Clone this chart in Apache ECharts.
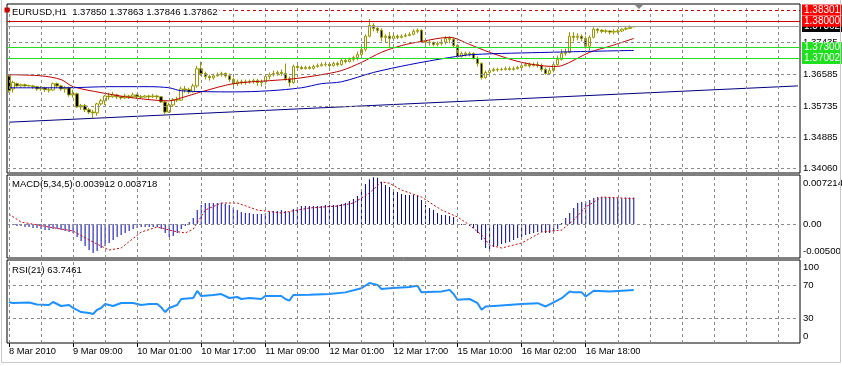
<!DOCTYPE html>
<html><head><meta charset="utf-8">
<script src="https://cdn.jsdelivr.net/npm/echarts@6/dist/echarts.min.js"></script>
<style>html,body{margin:0;padding:0;background:#fff}#c{width:842px;height:366px}</style>
</head><body><div id="c"></div>
<script>
// ---------- data ----------
const timeLabels = ['8 Mar 2010','9 Mar 09:00','10 Mar 01:00','10 Mar 17:00','11 Mar 09:00','12 Mar 01:00','12 Mar 17:00','15 Mar 10:00','16 Mar 02:00','16 Mar 18:00'];

const opens = [1.3654,1.3619,1.3633,1.3627,1.3630,1.3627,1.3627,1.3625,1.3619,1.3622,
1.3617,1.3616,1.3633,1.3627,1.3619,1.3622,1.3603,1.3606,1.3571,1.3574,
1.3563,1.3557,1.3555,1.3579,1.3587,1.3600,1.3598,1.3603,1.3598,1.3595,
1.3600,1.3598,1.3603,1.3598,1.3597,1.3600,1.3598,1.3600,1.3598,1.3584,
1.3557,1.3576,1.3590,1.3589,1.3619,1.3617,1.3611,1.3627,1.3673,1.3660,
1.3652,1.3649,1.3654,1.3657,1.3660,1.3654,1.3644,1.3633,1.3638,1.3636,
1.3638,1.3639,1.3641,1.3636,1.3638,1.3652,1.3657,1.3660,1.3663,1.3660,
1.3646,1.3636,1.3679,1.3676,1.3673,1.3676,1.3674,1.3679,1.3681,1.3684,
1.3685,1.3681,1.3687,1.3684,1.3695,1.3692,1.3698,1.3703,1.3711,1.3725,
1.3760,1.3789,1.3781,1.3776,1.3757,1.3760,1.3754,1.3760,1.3757,1.3760,
1.3762,1.3765,1.3773,1.3776,1.3746,1.3744,1.3743,1.3738,1.3741,1.3744,
1.3754,1.3752,1.3735,1.3706,1.3714,1.3711,1.3714,1.3700,1.3687,1.3649,
1.3663,1.3668,1.3671,1.3670,1.3671,1.3673,1.3671,1.3673,1.3676,1.3681,
1.3684,1.3681,1.3684,1.3682,1.3671,1.3660,1.3668,1.3684,1.3698,1.3714,
1.3717,1.3760,1.3757,1.3760,1.3754,1.3733,1.3757,1.3779,1.3776,1.3773,
1.3774,1.3771,1.3773,1.3774,1.3779,1.3781,1.37850];

const closes = [1.3614,1.3636,1.3627,1.3630,1.3627,1.3628,1.3625,1.3619,1.3622,1.3617,
1.3616,1.3633,1.3627,1.3619,1.3622,1.3603,1.3606,1.3571,1.3574,1.3563,
1.3557,1.3555,1.3579,1.3587,1.3600,1.3598,1.3603,1.3598,1.3595,1.3600,
1.3598,1.3603,1.3598,1.3597,1.3600,1.3598,1.3600,1.3598,1.3584,1.3557,
1.3576,1.3590,1.3589,1.3619,1.3617,1.3611,1.3627,1.3673,1.3660,1.3652,
1.3649,1.3654,1.3657,1.3660,1.3654,1.3644,1.3633,1.3638,1.3636,1.3638,
1.3639,1.3641,1.3636,1.3638,1.3652,1.3657,1.3660,1.3663,1.3660,1.3646,
1.3636,1.3679,1.3676,1.3673,1.3676,1.3674,1.3679,1.3681,1.3684,1.3685,
1.3681,1.3687,1.3684,1.3695,1.3692,1.3698,1.3703,1.3711,1.3725,1.3760,
1.3789,1.3781,1.3776,1.3757,1.3760,1.3754,1.3760,1.3757,1.3760,1.3762,
1.3765,1.3773,1.3776,1.3746,1.3744,1.3743,1.3738,1.3741,1.3744,1.3754,
1.3752,1.3735,1.3706,1.3714,1.3711,1.3714,1.3700,1.3687,1.3649,1.3663,
1.3668,1.3671,1.3670,1.3671,1.3673,1.3671,1.3673,1.3676,1.3681,1.3684,
1.3681,1.3684,1.3682,1.3671,1.3660,1.3668,1.3684,1.3698,1.3714,1.3717,
1.3760,1.3757,1.3760,1.3754,1.3733,1.3757,1.3779,1.3776,1.3773,1.3774,
1.3771,1.3773,1.3774,1.3779,1.3781,1.3784,1.37862];

const highs = [1.3657,1.3641,1.3636,1.3633,1.3633,1.3630,1.3630,1.3627,1.3627,1.3625,
1.3622,1.3636,1.3636,1.3630,1.3627,1.3625,1.3617,1.3609,1.3579,1.3579,
1.3568,1.3563,1.3582,1.3592,1.3603,1.3609,1.3611,1.3606,1.3600,1.3606,
1.3603,1.3609,1.3606,1.3603,1.3603,1.3603,1.3606,1.3603,1.3600,1.3587,
1.3582,1.3595,1.3598,1.3625,1.3627,1.3622,1.3633,1.3681,1.3692,1.3665,
1.3657,1.3660,1.3663,1.3665,1.3663,1.3660,1.3649,1.3644,1.3644,1.3644,
1.3644,1.3646,1.3646,1.3644,1.3657,1.3663,1.3668,1.3668,1.3671,1.3687,
1.3652,1.3684,1.3684,1.3681,1.3681,1.3681,1.3684,1.3687,1.3690,1.3692,
1.3690,1.3692,1.3692,1.3700,1.3700,1.3703,1.3708,1.3719,1.3730,1.3765,
1.3806,1.3795,1.3787,1.3781,1.3765,1.3771,1.3765,1.3765,1.3765,1.3768,
1.3771,1.3779,1.3781,1.3779,1.3752,1.3749,1.3746,1.3746,1.3752,1.3760,
1.3760,1.3757,1.3738,1.3719,1.3719,1.3719,1.3717,1.3706,1.3690,1.3668,
1.3673,1.3676,1.3676,1.3676,1.3679,1.3679,1.3679,1.3681,1.3690,1.3690,
1.3690,1.3690,1.3692,1.3687,1.3676,1.3676,1.3692,1.3708,1.3725,1.3727,
1.3771,1.3771,1.3768,1.3765,1.3760,1.3762,1.3784,1.3781,1.3779,1.3779,
1.3776,1.3779,1.3779,1.3781,1.3787,1.3789,1.37863];

const lows = [1.3609,1.3609,1.3625,1.3625,1.3625,1.3625,1.3619,1.3614,1.3614,1.3611,
1.3609,1.3614,1.3622,1.3614,1.3609,1.3598,1.3595,1.3568,1.3563,1.3557,
1.3552,1.3541,1.3547,1.3574,1.3576,1.3590,1.3595,1.3592,1.3590,1.3592,
1.3592,1.3595,1.3592,1.3592,1.3595,1.3592,1.3595,1.3592,1.3582,1.3549,
1.3555,1.3571,1.3584,1.3587,1.3609,1.3606,1.3609,1.3622,1.3654,1.3644,
1.3641,1.3644,1.3652,1.3652,1.3649,1.3638,1.3627,1.3627,1.3630,1.3630,
1.3633,1.3633,1.3627,1.3625,1.3630,1.3644,1.3652,1.3654,1.3654,1.3641,
1.3625,1.3633,1.3671,1.3671,1.3671,1.3671,1.3671,1.3676,1.3679,1.3679,
1.3676,1.3679,1.3679,1.3681,1.3687,1.3690,1.3692,1.3695,1.3706,1.3719,
1.3757,1.3773,1.3768,1.3746,1.3744,1.3730,1.3749,1.3752,1.3754,1.3757,
1.3760,1.3762,1.3768,1.3744,1.3738,1.3735,1.3733,1.3733,1.3735,1.3738,
1.3741,1.3730,1.3703,1.3703,1.3706,1.3706,1.3698,1.3679,1.3644,1.3646,
1.3657,1.3665,1.3665,1.3668,1.3668,1.3668,1.3668,1.3671,1.3673,1.3679,
1.3676,1.3679,1.3676,1.3665,1.3657,1.3657,1.3663,1.3681,1.3695,1.3708,
1.3714,1.3746,1.3749,1.3746,1.3727,1.3722,1.3754,1.3768,1.3768,1.3768,
1.3765,1.3765,1.3768,1.3771,1.3776,1.3779,1.37846];

const maRed = [[0,1.3657],[8,1.3654],[13,1.3644],[16,1.3625],[23,1.3609],[31,1.3595],[40,1.3587],[43,1.3595],[48,1.3611],[56,1.3633],[65,1.3641],[71,1.3646],[78,1.3657],[83,1.3668],[88,1.3690],[93,1.3717],[98,1.3735],[103,1.3746],[110,1.3757],[115,1.3738],[120,1.3717],[128,1.3690],[136,1.3679],[138,1.3681],[145,1.3717],[150,1.3733],[156,1.3754]];
const maBlue = [[0,1.3622],[14,1.3622],[25,1.3625],[35,1.3625],[40,1.3622],[43,1.3614],[56,1.3611],[65,1.3614],[73,1.3622],[78,1.3633],[83,1.3638],[91,1.3663],[100,1.3684],[110,1.3703],[116,1.3711],[135,1.3717],[156,1.3722]];
const trendLine = [[0,1.3530],[197,1.3627]];

const priceTicks = ['1.34060','1.34885','1.35735','1.36585','1.37435'];
const redDashLevel = 1.38301, redLevel = 1.38000, bidLevel = 1.37862;
const greenLevels = [1.37300, 1.37002];

const macdHist = [-0.00015,-0.00015,-0.00029,-0.00029,-0.00044,-0.00044,-0.00059,-0.00059,-0.00074,-0.00088,
-0.00088,-0.00074,-0.00074,-0.00088,-0.00103,-0.00118,-0.00132,-0.00191,-0.00250,-0.00324,
-0.00383,-0.00427,-0.00397,-0.00353,-0.00324,-0.00280,-0.00236,-0.00191,-0.00162,-0.00132,
-0.00103,-0.00074,-0.00059,-0.00044,-0.00044,-0.00044,-0.00044,-0.00044,-0.00074,-0.00132,
-0.00191,-0.00177,-0.00132,-0.00074,-0.00029,0.00029,0.00088,0.00206,0.00280,0.00309,
0.00309,0.00309,0.00309,0.00309,0.00294,0.00280,0.00236,0.00206,0.00177,0.00162,
0.00162,0.00147,0.00147,0.00147,0.00162,0.00177,0.00191,0.00191,0.00206,0.00191,
0.00177,0.00221,0.00250,0.00265,0.00265,0.00265,0.00265,0.00265,0.00265,0.00280,
0.00280,0.00280,0.00280,0.00294,0.00309,0.00339,0.00368,0.00412,0.00500,0.00590,
0.00660,0.00690,0.00680,0.00620,0.00574,0.00545,0.00515,0.00471,0.00442,0.00427,
0.00427,0.00427,0.00412,0.00353,0.00280,0.00236,0.00206,0.00162,0.00132,0.00132,
0.00118,0.00103,-0.00015,-0.00015,-0.00015,-0.00029,-0.00059,-0.00132,-0.00236,-0.00353,
-0.00383,-0.00339,-0.00324,-0.00294,-0.00280,-0.00265,-0.00236,-0.00206,-0.00191,-0.00162,
-0.00147,-0.00132,-0.00118,-0.00118,-0.00132,-0.00132,-0.00118,-0.00074,0.00015,0.00088,
0.00162,0.00236,0.00309,0.00324,0.00324,0.00353,0.00383,0.00397,0.00397,0.00397,
0.00397,0.00390,0.00380,0.00380,0.00390,0.00390,0.003912];
const macdSignal = [[0,0.00147],[3,0.00029],[10,-0.00044],[16,-0.00103],[20,-0.00236],[25,-0.00383],[28,-0.00353],[33,-0.00118],[37,-0.00044],[41,-0.00103],[44,-0.00132],[46,-0.00074],[49,0.00206],[53,0.00309],[57,0.00309],[62,0.00206],[68,0.00162],[75,0.00236],[82,0.00265],[86,0.00309],[90,0.00456],[93,0.00620],[95,0.00600],[98,0.00500],[103,0.00397],[108,0.00206],[112,0.00103],[115,-0.00015],[118,-0.00162],[120,-0.00309],[123,-0.00353],[128,-0.00280],[133,-0.00118],[138,-0.00088],[141,0.00059],[144,0.00250],[148,0.00397],[153,0.00383],[156,0.003718]];
const macdScale = {max: 0.007214, min: -0.00500};

const rsi = [[0,49.0],[1,48.2],[5,48.8],[7,46.5],[10,45.8],[11,49.4],[13,44.6],[15,45.8],[16,42.2],[18,37.3],[20,36.1],[21,34.9],[22,40.0],[23,42.2],[24,47.0],[26,44.6],[28,48.2],[31,48.2],[33,45.8],[35,47.0],[37,47.0],[38,43.0],[39,37.3],[40,42.2],[42,45.8],[43,53.0],[46,54.2],[47,62.7],[48,56.6],[51,57.8],[53,59.0],[55,54.2],[57,55.4],[58,53.0],[60,54.2],[63,53.0],[64,56.6],[68,56.6],[69,53.0],[70,51.0],[71,57.8],[75,58.0],[80,59.0],[84,61.0],[88,66.0],[90,72.3],[92,70.0],[93,65.0],[95,66.0],[100,67.5],[102,69.0],[103,61.0],[108,62.0],[110,64.0],[111,59.0],[112,52.0],[115,53.0],[117,48.0],[118,40.0],[119,44.0],[122,45.0],[128,47.0],[132,48.0],[134,44.0],[136,49.0],[138,54.0],[140,62.0],[141,61.0],[143,61.0],[144,56.0],[146,63.0],[150,62.0],[153,63.0],[156,63.7461]];
const rsiLevels = [70, 30];
const rsiScale = {max: 100, min: 0};

// ---------- layout / style ----------
const SLOTS = 198, GRID_STEP = 8, LABEL_STEP = 16;
const FONT = 'Liberation Sans, Arial, sans-serif';
const cats = Array.from({length: SLOTS}, (_, i) => String(i));
const candles = opens.map((o, i) => [o, closes[i], lows[i], highs[i]]);
const last = closes.length - 1;
const dash = {color: '#8a8a8a', type: [3, 3], width: 1};
const hidden = {color: 'rgba(0,0,0,0)', width: 0};

function vLines() {
  const a = [];
  for (let i = 0; i < SLOTS; i += GRID_STEP) a.push({xAxis: i});
  return a;
}
function axLabel(text, extra) {
  return Object.assign({show: true, position: 'end', distance: 3, formatter: text, color: '#000', fontSize: 9.6, fontFamily: FONT}, extra || {});
}
function boxLabel(text, bg) {
  return axLabel(text, {color: '#fff', backgroundColor: bg, padding: [1, 2, 0, 2], distance: 2, fontSize: 10});
}
// labels pushed inside the panel at its top / bottom edge
const belowLabel = (t, lh) => axLabel('\n' + t, {lineHeight: lh});
const aboveLabel = (t, lh) => axLabel(t + '\n', {lineHeight: lh});
const mlBase = {silent: true, symbol: 'none', animation: false, precision: 6};

const grids = [
  {left: 7, top: 4, width: 793, height: 169},
  {left: 7, top: 175, width: 793, height: 83},
  {left: 7, top: 260, width: 793, height: 83}
].map(g => Object.assign(g, {show: true, borderColor: '#000', borderWidth: 1, backgroundColor: '#fff'}));

const showTick = i => i % LABEL_STEP === 0 && i / LABEL_STEP < timeLabels.length;
const xAxes = [0, 1, 2].map(g => ({
  type: 'category', gridIndex: g, data: cats, boundaryGap: true,
  axisLine: {show: false},
  axisTick: g === 2 ? {show: true, alignWithLabel: true, interval: showTick, length: 4, lineStyle: {color: '#000'}} : {show: false},
  axisLabel: g === 2 ? {show: true, interval: showTick, align: 'left', margin: 4, fontSize: 9.3, fontFamily: FONT, color: '#000',
    formatter: (v, idx) => timeLabels[idx / LABEL_STEP] || ''} : {show: false},
  splitLine: {show: false}
}));
const yAxes = [
  {type: 'value', gridIndex: 0, min: 1.3394, max: 1.38462, show: false},
  {type: 'value', gridIndex: 1, min: macdScale.min, max: macdScale.max, show: false},
  {type: 'value', gridIndex: 2, min: rsiScale.min, max: rsiScale.max, show: false}
];

const series = [
  // main grid lines + price labels
  {type: 'line', xAxisIndex: 0, yAxisIndex: 0, data: [], z: 1, silent: true,
   markLine: Object.assign({}, mlBase, {lineStyle: dash, label: {show: false},
     data: vLines().concat(priceTicks.map(t => ({yAxis: +t, label: axLabel(t)})))})},
  {type: 'line', name: 'trend', xAxisIndex: 0, yAxisIndex: 0, data: trendLine, z: 2, symbol: 'none',
   lineStyle: {color: '#000080', width: 1}},
  {type: 'candlestick', xAxisIndex: 0, yAxisIndex: 0, data: candles, z: 3, barWidth: 3,
   itemStyle: {color: '#ffffff', color0: '#000000', borderColor: '#9a9a00', borderColor0: '#9a9a00', borderWidth: 1}},
  {type: 'line', name: 'maRed', xAxisIndex: 0, yAxisIndex: 0, data: maRed, z: 4, symbol: 'none', smooth: 0.3,
   lineStyle: {color: '#c00000', width: 1}},
  {type: 'line', name: 'maBlue', xAxisIndex: 0, yAxisIndex: 0, data: maBlue, z: 4, symbol: 'none', smooth: 0.3,
   lineStyle: {color: '#0000c0', width: 1}},
  // horizontal levels
  {type: 'line', xAxisIndex: 0, yAxisIndex: 0, data: [], z: 5, silent: true,
   markLine: Object.assign({}, mlBase, {
     data: [
       {yAxis: bidLevel, lineStyle: {color: '#a0a0a0', type: 'solid', width: 1}, label: boxLabel(bidLevel.toFixed(5), '#000')},
       {yAxis: redLevel, lineStyle: {color: '#c80000', type: 'solid', width: 1}, label: boxLabel(redLevel.toFixed(5), '#ff0000')},
       {yAxis: redDashLevel, symbol: ['emptyRect', 'emptyRect'], symbolSize: 5,
        lineStyle: {color: '#d00000', type: [3, 3], width: 1}, label: boxLabel(redDashLevel.toFixed(5), '#ff0000')}
     ].concat(greenLevels.map(v => ({yAxis: v, lineStyle: {color: '#22dd22', type: 'solid', width: 1},
       label: boxLabel(v.toFixed(5), '#1ee01e')})))})},
  // MACD
  {type: 'line', xAxisIndex: 1, yAxisIndex: 1, data: [], z: 1, silent: true,
   markLine: Object.assign({}, mlBase, {lineStyle: dash, label: {show: false},
     data: vLines().concat([{yAxis: 0, label: axLabel('0.00')}])})},
  {type: 'line', xAxisIndex: 1, yAxisIndex: 1, data: [], z: 6, silent: true,
   markLine: Object.assign({}, mlBase, {lineStyle: hidden,
     data: [
       {yAxis: macdScale.max, label: belowLabel(String(macdScale.max), 16)},
       {yAxis: macdScale.min, label: aboveLabel(macdScale.min.toFixed(5), 14)}
     ]})},
  {type: 'bar', xAxisIndex: 1, yAxisIndex: 1, data: macdHist, barWidth: 1, z: 3, itemStyle: {color: '#0000b0'}},
  {type: 'line', xAxisIndex: 1, yAxisIndex: 1, data: macdSignal, z: 4, symbol: 'none',
   lineStyle: {color: '#e00000', type: [2, 2], width: 1}},
  // RSI
  {type: 'line', xAxisIndex: 2, yAxisIndex: 2, data: [], z: 1, silent: true,
   markLine: Object.assign({}, mlBase, {lineStyle: dash, label: {show: false},
     data: vLines().concat(rsiLevels.map(v => ({yAxis: v, label: axLabel(String(v))})))})},
  {type: 'line', xAxisIndex: 2, yAxisIndex: 2, data: [], z: 6, silent: true,
   markLine: Object.assign({}, mlBase, {lineStyle: hidden,
     data: [
       {yAxis: rsiScale.max, label: belowLabel(String(rsiScale.max), 14)},
       {yAxis: rsiScale.min, label: aboveLabel(String(rsiScale.min), 14)}
     ]})},
  {type: 'line', xAxisIndex: 2, yAxisIndex: 2, data: rsi, z: 3, symbol: 'none',
   lineStyle: {color: '#1e90ff', width: 2}}
];

const tStyle = {fontSize: 9.5, fontWeight: 'normal', color: '#000', fontFamily: FONT};
const option = {
  animation: false,
  backgroundColor: '#fff',
  title: [
    {text: 'EURUSD,H1  ' + [opens[last], highs[last], lows[last], closes[last]].map(v => v.toFixed(5)).join(' '),
     left: 10, top: 6, padding: [1, 2], backgroundColor: '#fff', textStyle: tStyle},
    {text: 'MACD(5,34,5) ' + macdHist[last].toFixed(6) + ' ' + macdSignal[macdSignal.length - 1][1].toFixed(6),
     left: 10, top: 178, padding: [1, 2], textStyle: tStyle},
    {text: 'RSI(21) ' + rsi[rsi.length - 1][1].toFixed(4), left: 10, top: 264, padding: [1, 2], textStyle: tStyle}
  ],
  grid: grids, xAxis: xAxes, yAxis: yAxes, series: series,
  graphic: [
    {type: 'polygon', shape: {points: [[634, 4], [644, 4], [639, 9]]}, style: {fill: '#808080'}, z: 100},
    {type: 'polyline', shape: {points: [[1.5, 0], [1.5, 362.5], [840.5, 362.5], [840.5, 0]]}, style: {stroke: '#c8c8c8', lineWidth: 1, fill: null}, z: 100}
  ]
};
const chart = echarts.init(document.getElementById('c'), null, {renderer: 'canvas'});
chart.setOption(option);
</script></body></html>
